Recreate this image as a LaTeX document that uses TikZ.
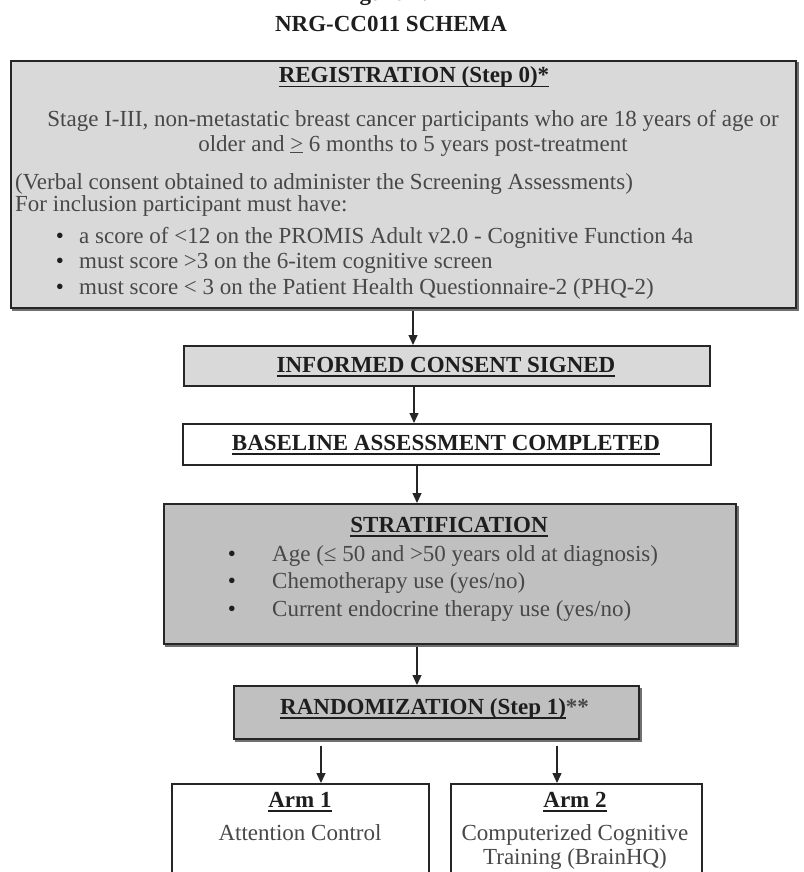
\documentclass[tikz,border=0pt]{standalone}
\usepackage{fontspec}
\setmainfont{Liberation Serif}
\usetikzlibrary{arrows.meta,backgrounds}
\definecolor{boxlight}{HTML}{D9D9D9}
\definecolor{boxdark}{HTML}{C0C0C0}
\definecolor{txt}{HTML}{484848}
\definecolor{hd}{HTML}{1E1E1E}
\definecolor{edge}{HTML}{262626}
\definecolor{shade}{HTML}{707070}
\newcommand{\ulx}[1]{\setbox0\hbox{#1}\rlap{\rule[-4.5pt]{\wd0}{1.8pt}}\box0}
\tikzset{
  x=1pt, y=-1pt,
  boxbase/.style={draw=edge, line width=1.8pt, inner sep=0pt, anchor=north west},
  lightbox/.style={boxbase, fill=boxlight},
  darkbox/.style={boxbase, fill=boxdark},
  whitebox/.style={boxbase, fill=white},
  bodytext/.style={font=\fontsize{23}{26}\selectfont, text=txt, inner sep=0pt},
  dottext/.style={font=\fontsize{23}{26}\selectfont, text=hd, inner sep=0pt},
  headtext/.style={font=\fontsize{23}{26}\selectfont\bfseries, text=hd, inner sep=0pt},
  arr/.style={draw=edge, line width=1.3pt, -{Triangle[width=9pt,length=10pt]}},
  shadowfill/.style={fill=shade}
}
\begin{document}
\begin{tikzpicture}
\useasboundingbox (0,0) rectangle (803,872);
% titles
\node[headtext, anchor=base] (fig) at (384,0.5) {Figure 1:};
\node[headtext, anchor=base] (title) at (391,32) {NRG-CC011 SCHEMA};
% registration
\node[lightbox, minimum width=785pt, minimum height=247pt] (reg) at (10,60) {};
\node[headtext, anchor=base] (regt) at (414,83) {\ulx{REGISTRATION (Step 0)*}};
\node[bodytext, anchor=base] (r1) at (413,127) {Stage I-III, non-metastatic breast cancer participants who are 18 years of age or};
\node[bodytext, anchor=base] (r2) at (413,151) {older and \underline{>} 6 months to 5 years post-treatment};
\node[bodytext, anchor=base west] (r3) at (15,189) {(Verbal consent obtained to administer the Screening Assessments)};
\node[bodytext, anchor=base west] (r4) at (15,211) {For inclusion participant must have:};
\node[dottext, anchor=base] (rb1) at (60,243) {\textbullet};
\node[dottext, anchor=base] (rb2) at (60,268.5) {\textbullet};
\node[dottext, anchor=base] (rb3) at (60,294) {\textbullet};
\node[bodytext, anchor=base west] (r5) at (79,243) {a score of <12 on the PROMIS Adult v2.0 - Cognitive Function 4a};
\node[bodytext, anchor=base west] (r6) at (79,268.5) {must score >3 on the 6-item cognitive screen};
\node[bodytext, anchor=base west] (r7) at (79,294) {must score < 3 on the Patient Health Questionnaire-2 (PHQ-2)};
% informed consent
\node[lightbox, minimum width=526pt, minimum height=40pt] (ic) at (183,345) {};
\node[headtext, anchor=base] (ict) at (446,372) {\ulx{INFORMED CONSENT SIGNED}};
% baseline
\node[whitebox, minimum width=528pt, minimum height=41pt] (bl) at (182,423) {};
\node[headtext, anchor=base] (blt) at (446,450) {\ulx{BASELINE ASSESSMENT COMPLETED}};
% stratification
\node[darkbox, minimum width=572pt, minimum height=140pt] (st) at (163,503) {};
\node[headtext, anchor=base] (stt) at (449,532) {\ulx{STRATIFICATION}};
\node[dottext, anchor=base] (sb1) at (232,561) {\textbullet};
\node[dottext, anchor=base] (sb2) at (232,588) {\textbullet};
\node[dottext, anchor=base] (sb3) at (232,616) {\textbullet};
\node[bodytext, anchor=base west] (s1) at (272,561) {Age (≤ 50 and >50 years old at diagnosis)};
\node[bodytext, anchor=base west] (s2) at (272,588) {Chemotherapy use (yes/no)};
\node[bodytext, anchor=base west] (s3) at (272,616) {Current endocrine therapy use (yes/no)};
% randomization
\node[darkbox, minimum width=405pt, minimum height=53pt] (rd) at (233,685) {};
\node[headtext, anchor=base west] (rdt) at (280,714) {\ulx{RANDOMIZATION (Step 1)}\textcolor{txt}{**}};
% arms
\node[whitebox, minimum width=257pt, minimum height=120pt] (arm1) at (171,783) {};
\node[whitebox, minimum width=251pt, minimum height=120pt] (arm2) at (450,783) {};
\node[headtext, anchor=base] (a1t) at (300,807) {\ulx{Arm 1}};
\node[bodytext, anchor=base] (a1b) at (300,840) {Attention Control};
\node[headtext, anchor=base] (a2t) at (575,807) {\ulx{Arm 2}};
\node[bodytext, anchor=base] (a2b) at (575,840) {Computerized Cognitive};
\node[bodytext, anchor=base] (a2c) at (575,864) {Training (BrainHQ)};
% shadows
\begin{scope}[on background layer]
\fill[shadowfill] ([xshift=2pt,yshift=-2.5pt]reg.south west) rectangle ([xshift=2pt,yshift=-2.5pt]reg.north east);
\fill[shadowfill] ([xshift=2pt,yshift=-2.5pt]st.south west) rectangle ([xshift=2pt,yshift=-2.5pt]st.north east);
\fill[shadowfill] ([xshift=2pt,yshift=-2.5pt]rd.south west) rectangle ([xshift=2pt,yshift=-2.5pt]rd.north east);
\end{scope}
% connectors
\coordinate (c1) at (413,0);
\coordinate (c2) at (414,0);
\coordinate (c3) at (417,0);
\coordinate (c5) at (321,0);
\coordinate (c6) at (557,0);
\draw[arr] ([yshift=-2pt]c1 |- reg.south) -- (c1 |- ic.north);
\draw[arr] (c2 |- ic.south) -- (c2 |- bl.north);
\draw[arr] (c3 |- bl.south) -- (c3 |- st.north);
\draw[arr] ([yshift=-2pt]c3 |- st.south) -- (c3 |- rd.north);
\draw[arr] ([yshift=-6pt]c5 |- rd.south) -- (c5 |- arm1.north);
\draw[arr] ([yshift=-6pt]c6 |- rd.south) -- (c6 |- arm2.north);
\end{tikzpicture}
\end{document}
